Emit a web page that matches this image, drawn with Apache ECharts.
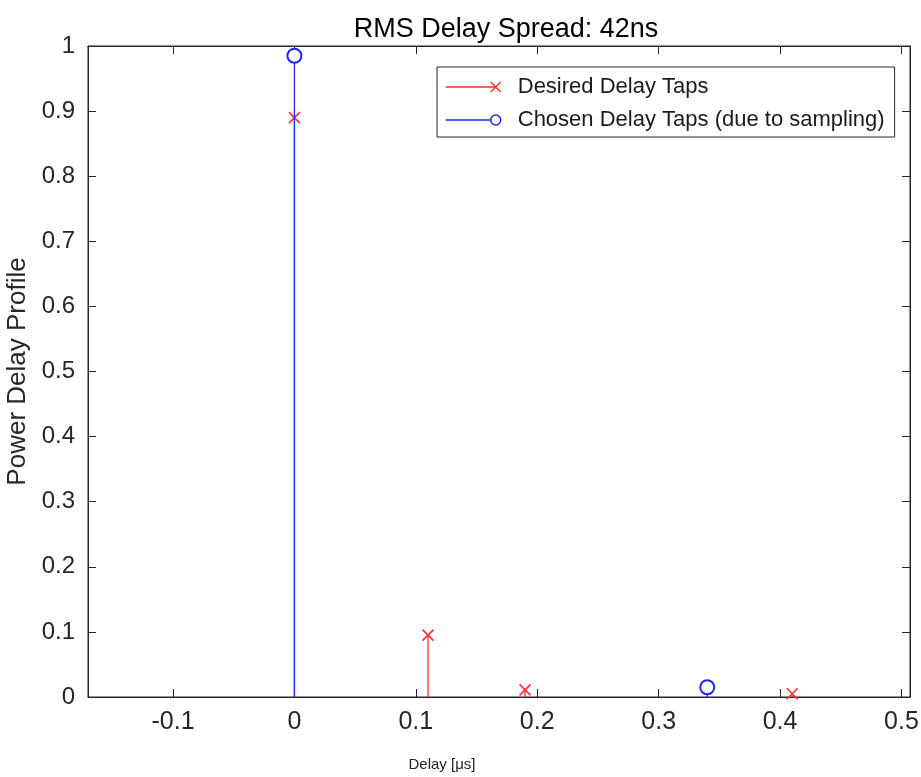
<!DOCTYPE html>
<html>
<head>
<meta charset="utf-8">
<script src="https://cdn.jsdelivr.net/npm/echarts@6/dist/echarts.min.js"></script>
<style>
  html, body { margin: 0; padding: 0; background: #fff; }
  #chart { width: 921px; height: 777px; }
</style>
</head>
<body>
<div id="chart"></div>
<script>
// delay taps
var desiredDelay = [0, 0.11, 0.19, 0.41];
var desiredPower = [0.89, 0.095, 0.011, 0.005];
var chosenDelay = [0, 0.34];
var chosenPower = [0.985, 0.015];
var yTicks = [0, 0.1, 0.2, 0.3, 0.4, 0.5, 0.6, 0.7, 0.8, 0.9, 1];

// stem data: base point without marker, top point with marker, gap between stems
function stems(xs, ys) {
  var out = [];
  for (var i = 0; i < xs.length; i++) {
    out.push({ value: [xs[i], 0], symbol: 'none' });
    out.push({ value: [xs[i], ys[i]] });
    out.push('-');
  }
  return out;
}

var red = '#ff3030';
var blue = '#2323ff';
var axisColor = '#262626';
var font = 'Liberation Sans, Arial, sans-serif';

var chart = echarts.init(document.getElementById('chart'));

function xLabel(v) {
  var r = Math.round(v * 10);
  if (Math.abs(v * 10 - r) > 1e-6) return '';
  return String(r / 10);
}

var option = {
  animation: false,
  title: {
    text: 'RMS Delay Spread: 42ns',
    left: 501,
    textAlign: 'center',
    top: 11,
    textStyle: { fontFamily: font, fontSize: 27, fontWeight: 'normal', color: '#000' }
  },
  legend: {
    left: 437,
    top: 67,
    orient: 'vertical',
    backgroundColor: '#fff',
    borderColor: axisColor,
    borderWidth: 1,
    padding: [8, 10, 5, 8],
    itemGap: 9,
    itemWidth: 55,
    itemHeight: 11,
    textStyle: { fontFamily: font, fontSize: 22, lineHeight: 24, color: '#1a1a1a', padding: [0, 0, 0, 12] },
    data: [{
      name: 'Desired Delay Taps',
      icon: 'path://M0,7L50,7M45,2L55,12M55,2L45,12',
      itemStyle: { color: 'transparent', borderColor: red, borderWidth: 1.5 }
    }, {
      name: 'Chosen Delay Taps (due to sampling)',
      icon: 'path://M0,5L45,5M55,5A5,5,0,1,1,45,5A5,5,0,1,1,55,5',
      itemStyle: { color: 'transparent', borderColor: blue, borderWidth: 1.5 }
    }]
  },
  grid: {
    left: 88, right: 11, top: 46, bottom: 80,
    outerBoundsMode: 'none',
    show: true, borderColor: axisColor, borderWidth: 1
  },
  graphic: [{
    type: 'text',
    x: 442,
    y: 765,
    style: { text: 'Delay [μs]', font: '15px ' + font, fill: '#222', align: 'center', verticalAlign: 'middle' }
  }],
  xAxis: [{
    type: 'value',
    min: -0.17,
    max: 0.507,
    splitNumber: 7,
    axisLine: { onZero: false, lineStyle: { color: axisColor } },
    axisTick: { inside: true, length: 8, lineStyle: { color: axisColor } },
    splitLine: { show: false },
    axisLabel: {
      formatter: xLabel, fontFamily: font, fontSize: 25, color: axisColor, margin: 13
    }
  }, {
    type: 'value',
    position: 'top',
    min: -0.17,
    max: 0.507,
    splitNumber: 7,
    axisLine: { onZero: false, lineStyle: { color: axisColor } },
    axisTick: { inside: true, length: 8, lineStyle: { color: axisColor } },
    splitLine: { show: false },
    axisLabel: { show: false }
  }],
  yAxis: [{
    type: 'value',
    min: yTicks[0],
    max: yTicks[yTicks.length - 1],
    interval: 0.1,
    name: 'Power Delay Profile',
    nameLocation: 'middle',
    nameGap: 48,
    nameTextStyle: { fontFamily: font, fontSize: 26, color: axisColor },
    axisLine: { show: true, onZero: false, lineStyle: { color: axisColor } },
    axisTick: { show: true, inside: true, length: 8, lineStyle: { color: axisColor } },
    splitLine: { show: false },
    axisLabel: {
      fontFamily: font, fontSize: 24, color: axisColor, margin: 13,
      formatter: function (v) { return String(Math.round(v * 10) / 10); }
    }
  }, {
    type: 'value',
    position: 'right',
    min: yTicks[0],
    max: yTicks[yTicks.length - 1],
    interval: 0.1,
    axisLine: { show: true, onZero: false, lineStyle: { color: axisColor } },
    axisTick: { show: true, inside: true, length: 8, lineStyle: { color: axisColor } },
    splitLine: { show: false },
    axisLabel: { show: false }
  }],
  series: [{
    name: 'Desired Delay Taps',
    type: 'line',
    data: stems(desiredDelay, desiredPower),
    connectNulls: false,
    symbol: 'path://M0,0L10,10M10,0L0,10',
    symbolSize: 11,
    showSymbol: true,
    color: red,
    lineStyle: { color: red, width: 1.3 },
    itemStyle: { color: 'transparent', borderColor: red, borderWidth: 1.6 },
    z: 2
  }, {
    name: 'Chosen Delay Taps (due to sampling)',
    type: 'line',
    data: stems(chosenDelay, chosenPower),
    connectNulls: false,
    symbol: 'emptyCircle',
    symbolSize: 14,
    showSymbol: true,
    color: blue,
    lineStyle: { color: blue, width: 1.3 },
    itemStyle: { color: blue, borderColor: blue, borderWidth: 1.6 },
    z: 3
  }]
};

chart.setOption(option);
</script>
</body>
</html>
